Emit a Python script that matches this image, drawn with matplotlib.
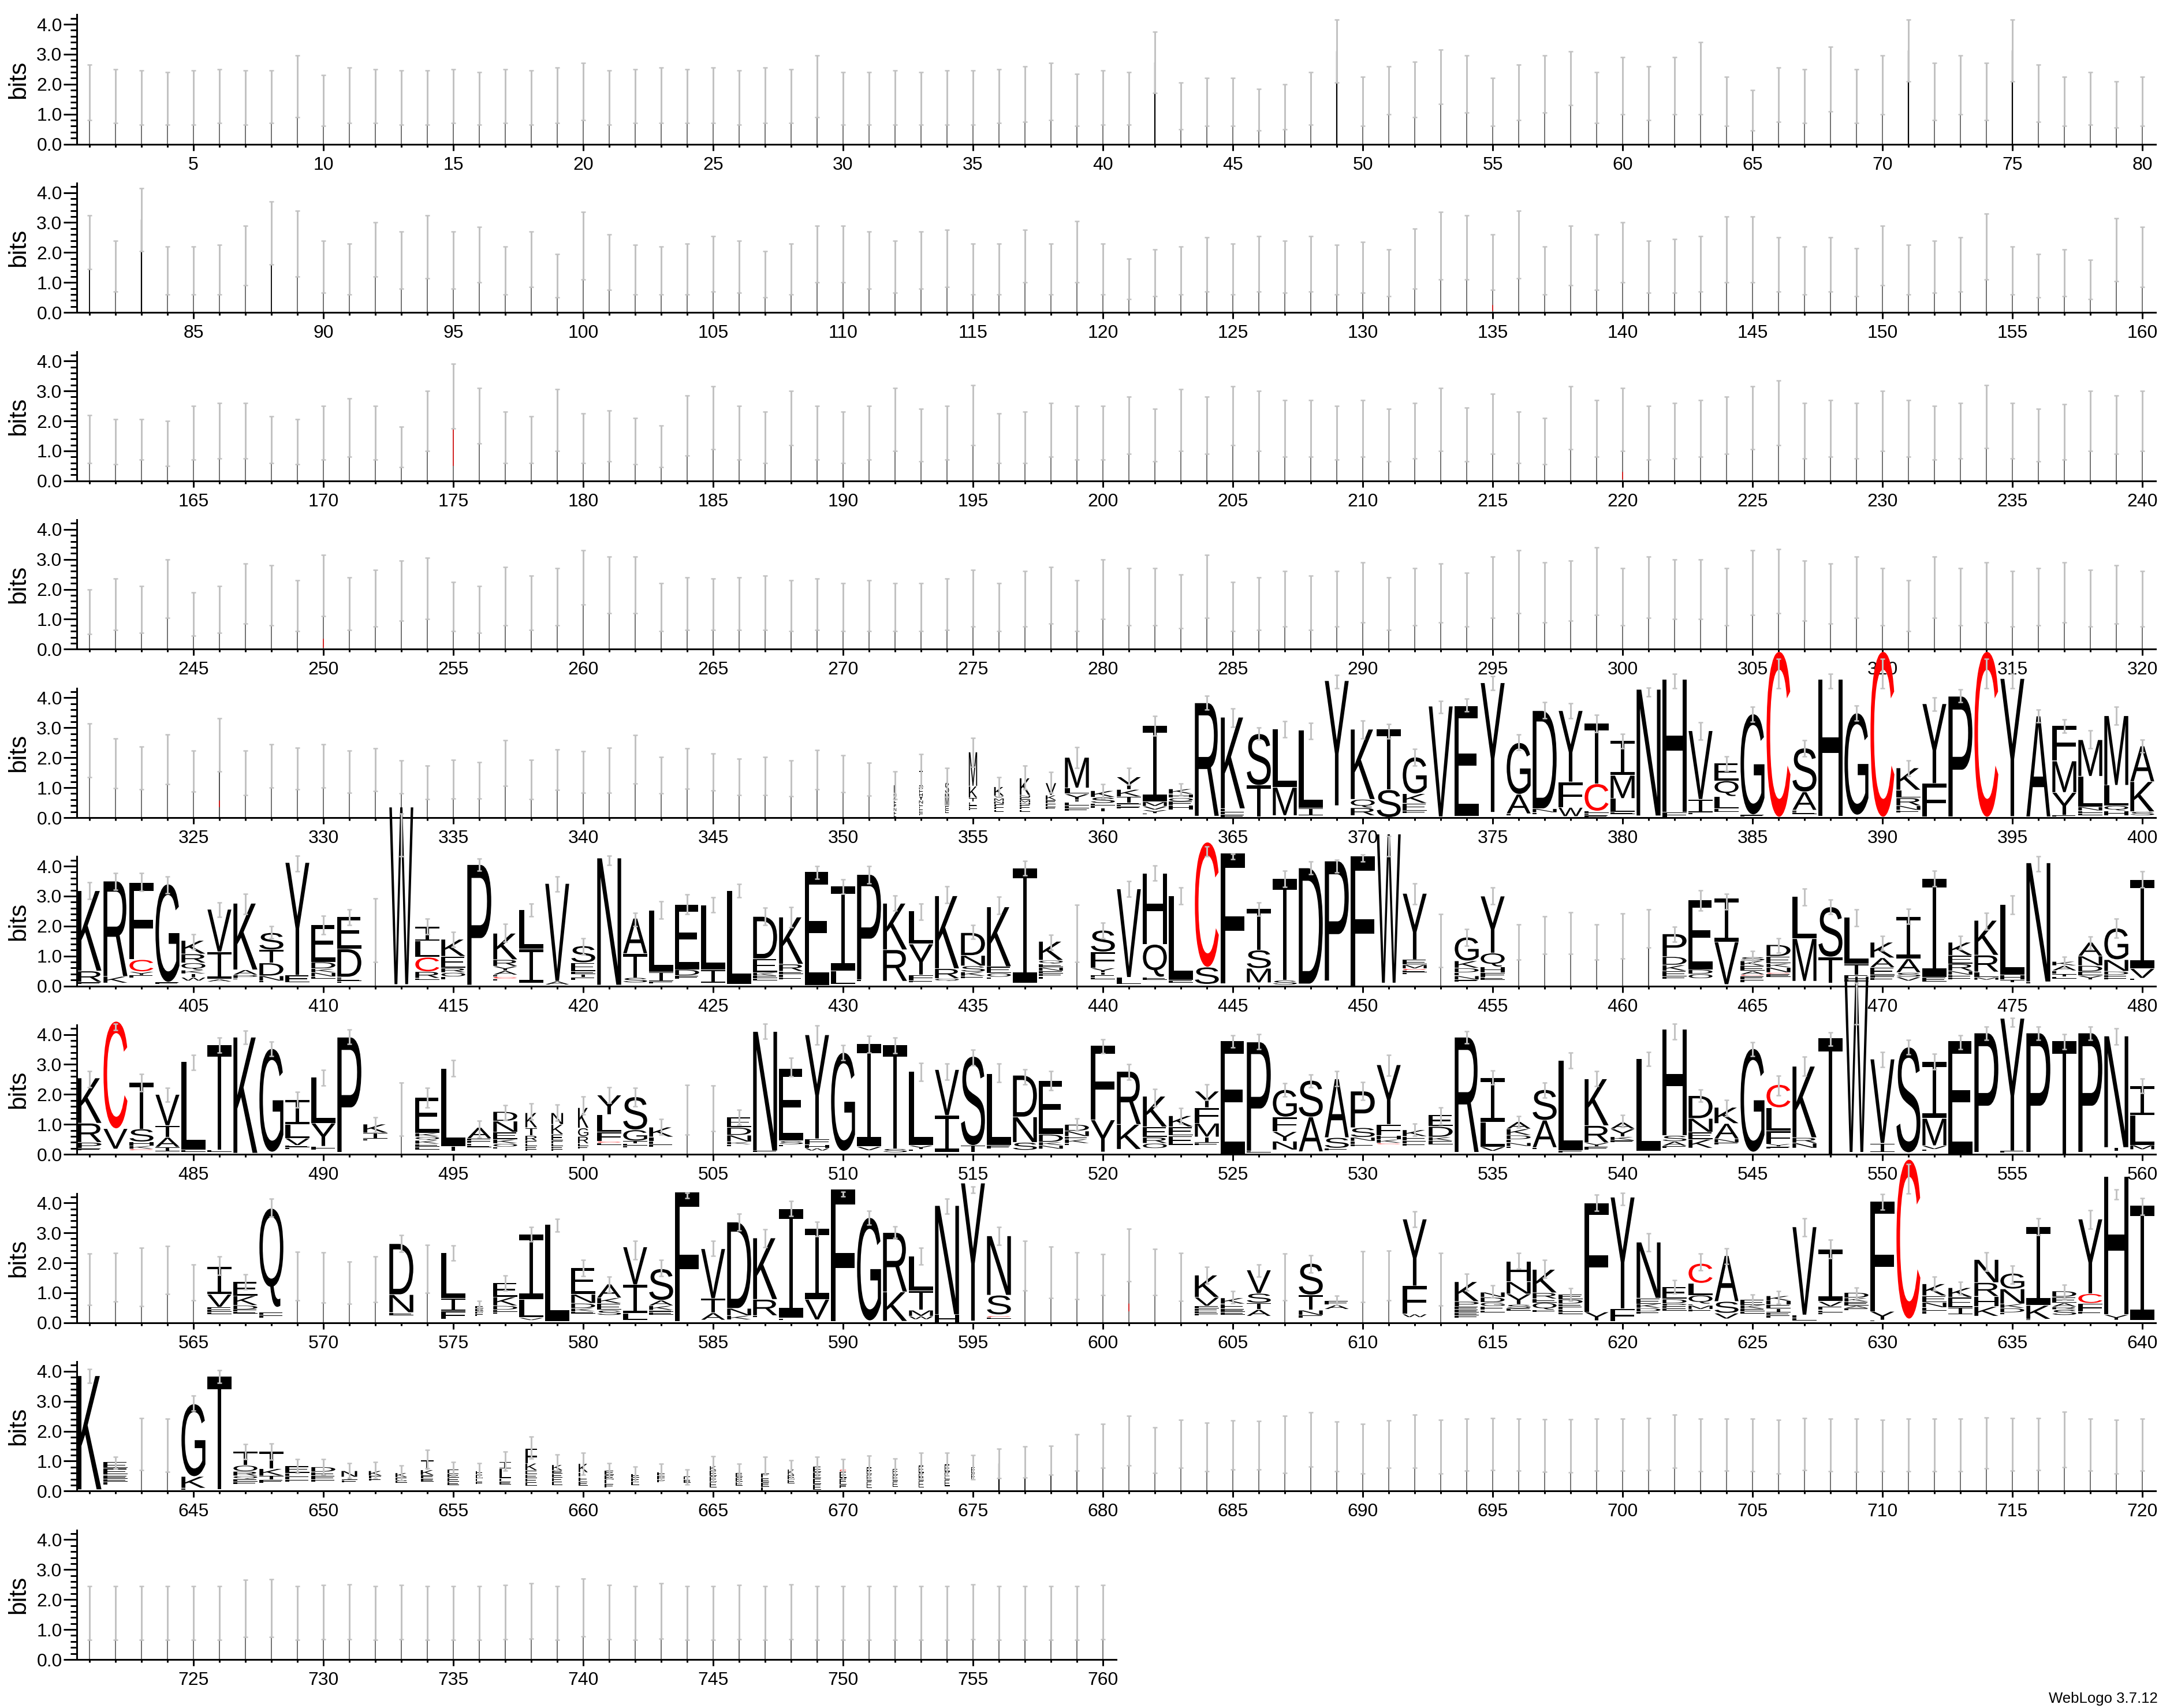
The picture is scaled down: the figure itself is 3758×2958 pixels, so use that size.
import matplotlib
matplotlib.use("Agg")
import matplotlib.pyplot as plt
from matplotlib.patches import PathPatch
from matplotlib.path import Path
from matplotlib.textpath import TextPath
from matplotlib.font_manager import FontProperties
from matplotlib.transforms import Affine2D
from matplotlib.ticker import MultipleLocator, FormatStrFormatter, FixedLocator

plt.rcParams['font.family'] = ['Liberation Sans', 'DejaVu Sans']

# upper / lower error-bar ends in bits, per row of the logo
hi_r1 = [2.65,2.5,2.45,2.4,2.45,2.5,2.45,2.45,2.95,2.3,2.55,2.5,2.45,2.45,2.5,2.4,2.5,2.45,2.55,2.7,
         2.45,2.5,2.55,2.5,2.55,2.45,2.55,2.5,2.95,2.4,2.4,2.45,2.4,2.45,2.45,2.5,2.6,2.7,2.35,2.45,
         2.4,3.75,2.05,2.2,2.2,1.85,2.0,2.4,4.15,2.25,2.6,2.75,3.15,2.95,2.2,2.65,2.95,3.1,2.4,2.9,
         2.6,2.9,3.4,2.25,1.8,2.55,2.5,3.25,2.5,2.95,4.15,2.7,2.95,2.7,4.15,2.65,2.25,2.4,2.1,2.25]
lo_r1 = [.8,.7,.65,.65,.65,.7,.65,.7,.9,.6,.7,.7,.65,.65,.7,.65,.7,.65,.7,.8,
         .65,.7,.7,.7,.7,.65,.7,.7,.9,.65,.65,.65,.65,.65,.65,.7,.75,.8,.6,.65,
         .65,1.7,.5,.6,.6,.45,.5,.65,2.05,.6,1.0,.9,1.35,1.05,.6,.8,1.05,1.3,.7,1.0,
         .8,1.0,1.0,.6,.45,.75,.7,1.1,.7,1.0,2.1,.8,1.0,.8,2.1,.75,.6,.65,.55,.6]
hi_r2 = [3.25,2.4,4.15,2.2,2.2,2.25,2.9,3.7,3.4,2.4,2.3,3.0,2.7,3.25,2.7,2.85,2.2,2.7,1.95,3.35,
         2.6,2.25,2.2,2.3,2.55,2.4,2.05,2.3,2.9,2.9,2.7,2.4,2.7,2.75,2.3,2.3,2.75,2.3,3.05,2.3,
         1.8,2.1,2.2,2.5,2.3,2.55,2.4,2.55,2.25,2.35,2.1,2.8,3.35,3.25,2.6,3.4,2.2,2.9,2.6,3.0,
         2.4,2.45,2.55,3.2,3.2,2.5,2.2,2.5,2.15,2.9,2.25,2.4,2.5,3.3,2.2,1.95,2.1,1.75,3.15,2.85]
lo_r2 = [1.45,.7,2.05,.6,.6,.6,.9,1.6,1.2,.65,.6,1.2,.8,1.15,.8,1.0,.6,.85,.5,1.1,
         .75,.6,.6,.6,.7,.65,.5,.6,1.0,1.0,.8,.65,.8,.85,.6,.6,1.0,.6,1.0,.6,
         .45,.55,.6,.7,.6,.7,.65,.7,.6,.65,.55,.8,1.1,1.1,.75,1.15,.6,.9,.75,1.0,
         .65,.65,.7,1.0,1.0,.7,.6,.7,.55,.9,.6,.65,.7,1.1,.6,.5,.55,.45,1.05,.85]
hi_r3 = [2.2,2.05,2.05,2.0,2.5,2.6,2.6,2.15,2.05,2.5,2.75,2.5,1.8,3.0,3.9,3.1,2.3,2.15,3.05,2.25,
         2.35,2.1,1.85,2.85,3.15,2.5,2.3,3.0,2.5,2.3,2.5,3.1,2.4,2.5,3.2,2.25,2.3,2.6,2.5,2.5,
         2.8,2.4,3.05,2.8,3.15,3.0,2.7,2.7,2.5,2.7,2.4,2.6,3.1,2.45,2.9,2.3,2.1,3.15,2.7,3.1,
         2.5,2.6,2.7,2.8,3.15,3.35,2.6,2.7,2.6,3.0,2.7,2.5,2.6,3.2,2.6,2.4,2.55,3.0,2.85,3.0]
lo_r3 = [.6,.55,.7,.5,.7,.75,.75,.6,.55,.7,.8,.7,.45,1.0,1.75,1.25,.6,.6,1.0,.6,
         .65,.55,.45,.85,1.05,.7,.6,1.2,.7,.6,.7,1.0,.65,.7,1.2,.6,.6,.8,.7,.7,
         .9,.65,1.0,.9,1.2,1.0,.8,.8,.7,.8,.65,.75,1.0,.65,.9,.6,.55,1.05,.8,1.0,
         .7,.75,.8,.9,1.05,1.2,.75,.8,.75,1.0,.8,.7,.75,1.1,.75,.65,.7,1.0,.9,1.0]
hi_r4 = [2.0,2.35,2.1,3.0,1.9,2.1,2.85,2.8,2.3,3.15,2.4,2.65,2.95,3.05,2.25,2.1,2.75,2.45,2.7,3.3,
         3.1,3.1,2.2,2.4,2.35,2.4,2.45,2.3,2.35,2.2,2.3,2.2,2.2,2.35,2.65,2.2,2.6,2.75,2.3,3.0,
         2.7,2.7,2.5,3.15,2.25,2.4,2.6,2.45,2.6,2.9,2.4,2.7,2.85,2.55,3.1,3.3,2.9,2.95,3.4,2.7,
         3.1,3.0,3.0,2.7,3.3,3.35,2.95,2.85,3.1,2.7,2.3,3.1,2.7,2.9,2.6,2.7,2.9,2.65,2.8,2.6]
lo_r4 = [.5,.65,.55,1.05,.45,.55,.85,.8,.6,1.1,.65,.75,.95,1.0,.6,.55,.8,.65,.8,1.5,
         1.2,1.2,.6,.65,.65,.65,.65,.6,.65,.6,.6,.6,.6,.65,.75,.6,.75,.85,.6,1.0,
         .8,.8,.7,1.05,.6,.65,.75,.65,.75,.9,.65,.8,.9,.75,1.05,1.2,.9,.95,1.15,.8,
         1.05,1.0,1.0,.8,1.15,1.2,.95,.85,1.05,.8,.6,1.05,.8,.9,.75,.8,.9,.75,.85,.75]
hi_r5 = [3.14,2.64,2.37,2.77,2.24,3.32,2.24,2.45,2.33,2.45,2.24,2.32,1.91,1.73,1.93,1.85,2.58,1.93,2.27,2.21,
         2.33,2.75,2.03,2.32,2.14,1.97,2.03,1.90,2.25,2.08,1.83,1.54,2.11,1.65,2.66,1.34,1.73,1.53,2.36,1.11,
         1.65,3.40,1.14,4.07,3.65,3.0,3.21,3.16,4.75,3.23,3.13,2.30,3.9,3.96,4.72,2.77,3.86,3.82,3.42,2.80,
         4.34,4.8,3.17,2.05,3.70,5.3,2.59,4.8,3.73,5.3,1.91,4.0,4.27,5.3,4.8,3.6,3.28,2.9,3.69,2.61]
lo_r5 = [1.35,.98,.94,1.11,.86,1.54,.76,1.01,.95,1.0,.82,.89,.80,.61,.64,.63,1.06,.61,.92,.82,
         .82,1.13,.80,.96,.91,.76,.76,.72,.94,.85,.73,.61,1.04,.69,1.70,.70,.94,.83,1.66,.63,
         1.09,2.74,.75,3.60,3.03,2.6,2.68,2.62,4.31,2.64,2.64,1.73,3.49,3.55,4.26,2.25,3.31,3.31,2.85,2.32,
         4.04,4.32,2.60,1.56,3.2,4.32,2.05,4.32,3.23,4.32,1.39,3.56,3.85,4.32,4.32,3.18,2.84,2.31,3.11,2.18]
hi_r6 = [3.47,3.76,3.76,3.65,1.73,2.78,3.08,1.99,4.35,2.34,2.56,2.93,5.76,2.24,1.81,4.26,2.07,2.75,3.65,1.6,
         4.35,2.44,2.83,3.05,2.95,3.41,2.62,2.64,4.0,3.56,4.0,3.01,2.75,3.32,2.04,2.97,4.17,1.71,2.71,2.12,
         3.49,4.02,3.28,4.65,4.4,2.78,3.84,4.15,4.22,4.39,5.0,3.43,2.4,1.9,3.28,2.05,2.32,2.46,2.05,2.42,
         2.56,1.97,3.19,3.08,1.16,1.59,3.25,2.88,2.56,1.66,2.58,3.85,1.67,2.44,3.01,4.32,.98,1.64,2.24,3.82]
lo_r6 = [2.90,3.21,3.17,3.1,1.23,2.31,2.41,1.59,3.82,1.73,2.03,.81,4.33,1.72,1.31,3.84,1.48,2.32,3.15,1.05,
         4.04,1.99,2.24,2.41,2.46,2.95,2.03,1.96,3.58,3.08,3.43,2.51,2.21,2.77,1.57,2.4,3.69,1.2,.81,1.59,
         2.97,3.51,2.73,4.32,4.23,2.34,3.3,3.73,3.78,4.15,4.32,2.73,.63,1.35,2.73,.87,1.08,1.07,.87,.91,
         1.28,1.48,2.51,2.55,.77,1.11,2.69,2.41,1.99,1.18,2.07,3.32,1.22,1.88,2.4,3.82,.59,1.22,1.62,3.28]
hi_r7 = [2.77,4.35,2.69,2.21,3.32,3.89,4.13,3.76,2.08,2.82,4.16,1.23,2.4,2.21,3.15,1.12,1.65,1.7,1.67,1.93,
         2.24,2.21,1.18,2.32,2.29,1.48,4.35,3.22,4.3,3.65,3.95,3.89,3.04,3.03,3.5,3.03,2.84,2.77,1.2,3.83,
         3.0,2.19,1.54,2.34,3.98,4.02,2.38,2.67,2.78,2.41,3.32,1.03,1.56,4.11,2.8,1.27,2.4,3.39,2.78,1.31,
         3.42,4.35,2.17,1.82,3.74,2.63,3.26,4.07,5.73,3.42,3.82,3.35,3.98,4.27,4.55,4.27,4.02,4.27,4.2,2.52]
lo_r7 = [2.23,4.15,2.1,1.75,2.82,3.39,3.69,3.28,1.56,2.3,3.69,.74,.62,1.56,2.6,.57,1.14,1.16,1.12,1.34,
         1.71,1.6,.66,.66,.77,.99,3.85,2.6,3.67,3.15,3.39,3.37,2.45,2.49,2.97,2.41,2.34,2.15,.79,3.37,
         2.49,1.6,1.03,1.82,3.57,3.52,1.93,2.23,2.27,1.82,2.63,.62,1.01,3.7,2.34,.89,1.9,2.88,2.27,.9,
         2.95,3.84,1.75,1.27,3.28,1.97,2.63,3.63,4.33,2.91,3.34,2.83,3.52,3.82,4.26,3.82,3.52,3.82,3.67,2.04]
hi_r8 = [2.3,2.32,2.51,2.55,1.95,2.21,1.62,4.13,2.36,2.34,2.03,2.21,2.93,2.6,2.58,.72,1.58,3.2,3.47,2.1,
         1.53,2.73,2.1,4.33,2.73,3.63,3.11,4.07,3.37,4.37,3.74,3.22,2.5,4.14,4.55,3.19,2.73,2.54,2.34,2.28,
         3.14,2.47,2.32,1.87,1.06,1.95,2.3,2.25,.9,2.38,2.41,3.72,2.32,1.64,1.25,2.32,2.1,1.16,4.28,4.33,
         2.98,1.43,2.3,2.49,.94,1.06,3.48,2.78,1.17,4.3,5.3,1.53,1.36,2.34,1.9,3.48,1.27,3.76,4.44,4.15]
lo_r8 = [.6,.7,.55,.96,.74,1.6,1.12,3.54,.75,.68,.64,.69,2.36,.99,2.08,.35,1.08,2.71,3.04,1.56,
         1.01,2.12,1.56,4.15,2.23,3.08,2.52,3.56,2.89,4.22,3.28,2.83,1.94,3.63,4.33,2.6,1.08,.83,.79,.92,
         1.38,.92,.72,1.31,.66,1.53,.74,1.68,.6,.69,.74,3.19,.57,1.08,.84,1.8,1.49,.72,3.74,3.93,
         2.38,.97,1.75,1.97,.57,.64,2.89,2.15,.79,3.78,4.32,1.08,.94,1.73,1.31,2.93,.79,3.13,4.11,3.59]
hi_r9 = [4.07,1.14,2.44,2.42,3.18,4.04,1.57,1.59,1.06,1.06,.94,.97,.85,1.37,.97,.94,1.31,1.81,1.22,1.28,
         .94,.82,.92,.72,1.17,.92,1.15,1.03,1.15,1.07,1.19,1.09,1.28,1.28,1.2,1.42,1.5,1.52,1.9,2.24,
         2.52,2.13,2.38,2.29,2.36,2.33,2.51,2.63,2.32,2.24,2.36,2.55,2.38,2.42,2.44,2.42,2.4,2.4,2.42,2.42,
         2.44,2.55,2.41,2.41,2.41,2.38,2.44,2.41,2.41,2.38,2.41,2.41,2.41,2.46,2.44,2.44,2.64,2.42,2.38,2.42]
lo_r9 = [3.62,.76,.7,.65,2.68,3.62,1.07,1.04,.6,.55,.43,.43,.35,.76,.5,.45,.69,1.09,.69,.54,
         .43,.32,.35,.21,.32,.24,.54,.41,.5,.38,.39,.39,.43,.5,.39,.43,.46,.55,.69,.77,
         .85,.6,.77,.67,.72,.72,.61,.82,.67,.58,.77,.77,.58,.69,.7,.69,.65,.63,.69,.69,
         .7,.77,.67,.69,.67,.58,.7,.67,.65,.67,.67,.67,.67,.75,.69,.7,.8,.69,.58,.69]
hi_r10 = [2.44,2.44,2.44,2.44,2.44,2.44,2.66,2.68,2.44,2.48,2.5,2.44,2.48,2.44,2.44,2.44,2.48,2.55,2.44,2.7,
          2.48,2.44,2.55,2.44,2.44,2.48,2.44,2.5,2.44,2.44,2.44,2.44,2.44,2.44,2.5,2.44,2.44,2.44,2.44,2.48]
lo_r10 = [.66,.66,.66,.66,.66,.66,.75,.75,.66,.68,.68,.66,.68,.66,.66,.66,.68,.7,.66,.78,
          .68,.66,.7,.66,.66,.68,.66,.68,.66,.66,.66,.66,.66,.66,.68,.66,.66,.66,.66,.68]
hi_rows = [hi_r1,hi_r2,hi_r3,hi_r4,hi_r5,hi_r6,hi_r7,hi_r8,hi_r9,hi_r10]
lo_rows = [lo_r1,lo_r2,lo_r3,lo_r4,lo_r5,lo_r6,lo_r7,lo_r8,lo_r9,lo_r10]

# letter stacks: first number = stack top in bits, then letters top to bottom with height in bits
stacks_r5 = {
352:"1.07 E.25 N.1 E.1 H.1 E.1 N.1 F.1 E.1",353:"1.57 I.55 D.05 F.1 H.1 I.1 N.1 E.06 E.06 E.06 E.06 E.06",
354:"1.17 S.35 M.4 E.06 E.06 E.06",355:"2.18 M1.12 K.37 T.12 E.05 E.05 E.05 E.05",
356:"1.02 K.29 V.05 M.08 N.08 E.08 E.06 E.06",357:"1.31 K.55 N.05 E.07 M.07 N.05 E.06 E.06 E.06",
358:"1.15 V.39 K.15 E.09 E.08 E.08",359:"2.0 M1.0 L.18 Y.18 T.05 E.1 E.08 E.06",360:".89 K.2 S.18 E.06 E.06 I.1",
361:"1.35 Y.4 K.22 T.18 E.04 E.05 E.05",362:"3.06 I2.52 M.13 V.1 Y.1 E.02",363:".95 K.15 H.11 O.1 E.11 H.13",
364:"3.82 R3.76",365:"3.34 K3.03 E.08 E.08 E.08",366:"2.79 S1.7 T1.03",367:"2.95 L1.93 M.92",368:"2.9 L2.58 I.22",
369:"4.56 Y4.15",370:"2.94 K2.32 Q.26 R.24",371:"2.94 T2.0 S.9",372:"2.01 G1.2 K.3 E.24 E.06",373:"3.71 V3.67",
374:"3.71 E3.65",375:"4.49 Y4.3",376:"2.49 G1.7 A.63 E.05",377:"3.56 D3.25 N.11 E.05",378:"3.56 Y2.36 F.83 W.28",
379:"3.14 T2.0 C.89 E.05 E.05 E.05",380:"2.57 I1.15 M.75 L.44 E.05",381:"4.27 N4.2",382:"4.6 H4.41 F.17",
383:"2.89 V2.27 I.42 E.05",384:"1.81 E.57 Q.5 L.39 E.09",385:"3.45 G3.34 E.05",386:"5.53 C5.5",
387:"2.31 S1.44 A.59 E.05 E.05",388:"4.6 H4.55",389:"3.48 G3.38",390:"5.53 C5.5",391:"1.65 K.72 L.24 R.24 N.13 E.07",
392:"3.79 Y2.64 F1.09",393:"4.04 P4.0",394:"5.53 C5.5",395:"4.63 Y4.58",396:"3.38 A3.34",397:"3.06 F1.16 M1.03 Y.74 E.04",
398:"2.59 M1.2 L1.0 N.11 E.06 E.06",399:"3.39 M2.3 L.66 Q.15 H.15",400:"2.38 A1.17 K.98 S.11"}
stacks_r6 = {
401:"3.17 K2.66 R.35 E.05",402:"3.49 R3.16 K.2",403:"3.45 F2.56 C.38 Y.1 E.07",404:"3.39 G3.25 E.05",
405:"1.51 K.43 R.28 Q.22 K.1 I.1 W.1",406:"2.55 V1.4 I.89 A.07",407:"2.75 K2.2 A.15 P.09 E.03",
408:"1.77 S.55 T.42 D.41 N.15 E.03",409:"4.11 Y3.74 E.22",410:"2.04 E1.23 D.2 K.11 N.12 E.05",411:"2.31 E1.06 D.92 E.05 E.05 E.05",
413:"5.96 W5.9",414:"1.97 I.46 L.52 C.46 R.2 E.04",415:"1.55 K.55 E.37 R.13 O.12 E.08",416:"4.04 P4.0",
417:"1.75 K.86 R.2 Y.13 A.12 E.04 C.05 E.05",418:"2.53 L1.28 I1.12",419:"3.41 V3.24 A.1",420:"1.33 S.54 E.27 E.08 I.08 E.08",
421:"4.26 N4.22",422:"2.25 A1.16 T.78 S.15",423:"2.51 L2.03 I.3 E.06",424:"2.71 E2.15 D.18 E.1",425:"2.69 L2.14 I.42",
426:"3.17 L3.1",427:"2.31 D1.39 E.44 K.09 E.06 E.06",428:"2.29 K1.55 R.22 E.08 E.08 E.06",429:"3.8 E3.76",
430:"3.32 I2.8 L.44",431:"3.71 P3.49 E.04",432:"2.75 K1.53 R1.03",433:"2.49 L1.08 Y1.01 F.18 E.04",434:"3.0 K2.41 R.31 Q.07",
435:"1.77 D.74 N.33 S.18 K.12 E.06",436:"2.63 K1.97 E.2 O.11 E.05",437:"3.93 I3.82",
438:"1.48 K.61 Q.1 E.1 N.1 E.07 E.07 E.07",440:"1.85 S.7 F.52 Y.13 I.07 E.05 E.05",441:"3.23 V2.93 L.22",
442:"3.75 H2.35 Q1.07 E.08",443:"2.99 L2.79 E.07",444:"4.79 C4.15 S.55",445:"4.43 F4.35",446:"2.58 T1.37 S.59 M.46",
447:"3.58 T3.38 S.13",448:"3.93 D3.85",449:"4.16 P3.98",450:"4.32 F4.32",451:"5.06 W4.95",452:"3.08 Y2.19 E.15 M.11 C.04 E.05 E.05",
454:"1.62 G.77 K.22 D.13 E.09 N.11 E.05",455:"2.99 Y1.88 Q.44 H.17 F.13 E.08",462:"1.73 P.74 D.26 K.18 E.17 E.06",
463:"2.86 E2.3 D.13 O.13",464:"2.92 I1.44 V1.4",465:".96 S.11 K.15 E.15 A.1 C.03 E.1 E.08",466:"1.37 D.37 E.22 K.11 N.15 C.03 E.08",
467:"2.97 L1.38 M1.4",468:"2.63 S1.65 T.86",469:"2.29 L1.55 T.35 E.1 E.08",470:"1.45 K.5 A.3 E.24 F.07 E.06",
471:"2.31 I1.39 A.44 S.13 V.11",472:"3.58 I3.28 E.13",473:"1.45 K.42 E.26 R.22 N.11 E.06 E.06",474:"2.18 K1.14 R.54 L.16 M.07",
475:"2.71 L2.34 H.13 I.07",476:"4.1 N3.95 E.05",477:".81 K.12 A.15 E.09 T.07 E.05",478:"1.45 A.44 N.3 D.18 E.11 Y.12",
479:"1.92 G1.03 N.37 D.1 E.06 E.06",480:"3.54 I2.95 V.3 E.05"}
stacks_r7 = {
481:"2.54 K1.49 R.62 P.18 E.05",482:"4.43 C3.56 V.66",483:"2.4 T1.54 S.41 H.11 K.09 C.03",484:"1.99 V1.02 T.37 A.31 I.13",
485:"3.08 L2.92 E.05",486:"3.65 T3.49 E.05",487:"3.9 K3.85",488:"3.52 G3.43",489:"1.82 I.81 L.44 V.22 E.05 E.05",
490:"2.56 L1.51 Y.75 F.11",491:"3.9 P3.82",492:"1.0 K.27 I.18 E.04",494:"1.9 E1.18 K.1 Q.1 K.1 E.08 E.08",495:"2.86 L2.58 I.15",
496:".89 A.35 E.06 E.06 E.05 E.05",497:"1.42 D.3 N.35 E.22 K.12 O.09 E.04",498:"1.38 K.48 T.24 R.16 E.07 E.07 E.07 E.06",
499:"1.38 N.37 K.31 E.2 E.07 E.07 E.07 E.06",500:"1.55 K.66 G.26 R.22 E.07 E.07",501:"1.97 Y.63 L.57 F.28 C.04 E.05",
502:"1.91 S1.08 G.35 I.07 E.05 E.05",503:".9 K.31 F.12 E.08 E.08",506:"1.23 E.32 D.24 N.2 K.07 E.05",507:"4.09 N3.96 E.03",
508:"2.86 E2.4 S.1 E.05",509:"3.98 Y3.45 F.18 H.09 W.07",510:"3.39 G3.27",511:"3.69 I3.42 V.11",512:"3.65 T3.45 S.11",
513:"2.75 L2.44 Y.11 E.05",514:"2.82 V1.51 I1.2",515:"3.26 S2.95 T.2",516:"2.69 L2.38 E.1",517:"2.63 D1.37 N.83 S.24",
518:"2.45 E1.77 D.24 K.09 N.1",519:".99 D.2 N.16 E.07 K.12 E.05",520:"3.62 F2.46 Y1.05",521:"2.76 R1.75 K.81",
522:"1.93 K1.0 E.33 R.18 O.15",523:"1.28 K.35 E.28 E.29",524:"2.1 Y.53 F.5 M.44 I.18 E.06",525:"3.78 E3.76",526:"3.74 P3.62 E.03",
527:"2.15 G.89 F.47 Y.3 N.27",528:"2.46 S1.2 A1.14",529:"2.51 A1.94 S.33 E.06",530:"2.1 P1.2 S.3 N.11 E.08 E.06",
531:"2.98 Y1.97 F.35 H.11 K.1 C.03",532:".81 K.2 E.13 E.07 E.06",533:"1.31 E.37 D.33 K.11 E.1",534:"3.9 R3.82",535:"2.54 I1.45 L.81 V.12",
536:"1.08 A.22 K.19 D.12 E.09 N.1 E.05",537:"2.15 S1.0 A.89 E.05",538:"3.13 L3.0 E.05",539:"2.51 K1.54 R.55 Y.11 E.1",
540:"1.06 A.2 Y.24 K.1 E.05",541:"3.19 L3.08",542:"4.17 H3.53 S.18 A.13 E.06",543:"1.95 D.74 N.44 E.22 K.27",
544:"1.56 K.52 A.49 N.11 E.05",545:"3.52 G3.43",546:"2.32 C.75 L.76 F.41 Y.07 E.05",547:"2.93 K2.36 R.16 N.15",548:"3.87 T3.87",
549:"5.93 W5.85",550:"3.17 V2.79 I.28",551:"3.57 S3.5",552:"3.08 I1.87 M.89 V.1 E.05",553:"3.78 E3.78",554:"4.04 P3.96",
555:"4.53 Y4.4 E.05",556:"4.04 P3.96",557:"3.78 T3.78",558:"4.04 P3.96",559:"3.94 N3.7 I.1",560:"2.27 I.96 L.97 M.13"}
stacks_r8 = {
566:"1.86 I.9 V.41 E.06 E.06 E.06",567:"1.36 E.45 K.3 D.12 E.05 E.05",568:"3.81 Q3.28 _.15 E.08 E.07",573:"2.63 D1.68 N.58 E.08",
575:"2.32 L1.5 I.4 F.25",576:".55 E.07 E.07 E.07 E.06",577:"1.33 E.46 K.27 D.12 E.05 E.05",578:"2.95 I2.16 L.59 V.07",579:"3.28 L3.22",
580:"1.82 E.86 N.28 D.15 K.09 E.05",581:"1.28 A.44 K.17 E.2 S.15",582:"2.52 V1.24 I.94 L.2",583:"1.79 S1.03 A.16 K.13 E.04 E.08",
584:"4.35 F4.3",585:"2.46 V1.64 T.46 A.22",586:"3.35 D2.86 N.22 K.12",587:"2.82 K2.03 R.52 E.05",588:"3.8 I3.64 E.05",589:"3.13 I2.34 V.66",
590:"4.44 F4.39",591:"3.5 G3.42",592:"3.0 R1.96 K.96",593:"2.21 L1.13 T.63 M.18 W.09",594:"3.9 N3.62 H.26",595:"4.65 Y4.58",
596:"2.89 N1.96 S.63 _.02 C.03 E.03",604:"1.58 K.72 V.27 E.07 E.06 E.06 E.06",605:".82 K.18 E.15 E.08 E.08",606:"1.75 V.76 S.3 I.2 A.2",
608:"1.97 S1.03 T.49 N.15 E.07",609:".72 E.11 A.13",612:"3.45 Y2.21 F.92 W.09",614:"1.36 K.64 P.15 E.08 E.08 E.08 E.06",
615:"1.01 N.15 D.15 G.11 E.11 E.06",616:"2.04 H.66 N.39 Y.33 S.11 E.06",617:"1.77 K.76 R.18 E.11 Q.22 E.06",618:".94 E.15 D.13 E.07 E.07 E.07 E.06",
619:"3.99 F3.62 Y.27",620:"4.18 Y3.7 F.41",621:"2.68 N1.85 E.17 K.12 D.1 E.06",622:"1.2 E.4 D.13 P.06 E.06 E.06",
623:"1.97 C.64 L.38 Q.27 E.03 M.11 E.06",624:"2.23 A1.51 S.37 V.17",625:".76 E.16 K.11 E.06 E.06",626:".89 K.15 H.11 E.11 I.11 E.07 E.07",
627:"3.19 V2.92 E.08 E.07",628:"2.45 I1.73 V.15 E.1 E.06 E.05",629:"1.0 D.16 K.11 E.11 A.07 E.05",630:"4.04 F3.65 Y.27 E.02",631:"5.44 C5.3",
632:"1.29 K.38 E.2 N.15 E.09 E.09",633:"1.16 K.3 E.33 I.2",634:"2.1 N.75 R.44 H.32 K.3",635:"1.64 G.5 N.48 K.12 D.13 E.05",
636:"3.2 I2.61 K.44 E.02",637:"1.05 D.18 E.18 A.11 R.07 S.17",638:"3.45 Y2.47 C.3 F.26 E.06",639:"4.88 H4.6 Y.16",640:"3.91 I3.82"}
stacks_r9 = {
641:"3.84 K3.78",642:".97 E.2 E.18 E.03 E.08 E.08 E.08",645:"2.9 G2.4 K.37 E.04",646:"3.82 T3.76",647:"1.31 T.44 O.18 R.13 Q.09 E.07 E.07",
648:"1.31 T.55 K.22 I.11 E.1",649:".83 E.22 E.09 E.09 E.06",650:".8 D.15 E.11 E.11 E.06",651:".67 N.19 I.08 E.07",652:".67 K.15 E.07 E.06",
653:".6 K.13 E.08 E.07",654:"1.02 T.3 K.16 E.09 E.09",655:".72 E.12 E.12 E.12 E.1",656:".67 E.11 E.1 E.09 E.08",657:".98 I.22 L.3 E.09 E.09",
658:"1.42 F.48 K.22 E.11 E.11 E.11 E.1",659:".87 K.17 E.09 E.11 E.11 E.11",660:".91 K.28 E.13 E.13 E.12",661:".68 E.13 E.13 E.13 E.11",
662:".57 E.11 E.11 E.11",663:".63 E.11 E.11 E.08",664:".48 E.09 E.09",665:".83 K.13 E.17 E.17 E.17",666:".6 E.13 E.13 E.11",
667:".58 F.13 E.13 E.13 E.13",668:".72 K.18 E.12 E.12",669:".82 E.18 E.18 E.18 E.18",670:".72 C.06 E.2 E.2 E.1",671:".79 E.22 E.22 E.2",
672:".74 E.19 E.19 E.18",673:".85 E.24 E.24 E.2",674:".89 E.24 E.24 E.2",675:".8 E.2 E.2"}
stacks = {**stacks_r5, **stacks_r6, **stacks_r7, **stacks_r8, **stacks_r9}

# stack width as a share of the column where a column is not full
column_width = {352:.1,353:.15,354:.15,355:.32,356:.37,357:.4,358:.4,498:.45,499:.45,500:.4,576:.3,
    651:.6,652:.5,653:.45,654:.5,655:.45,656:.25,657:.45,658:.45,659:.4,660:.35,661:.35,662:.3,663:.3,664:.25,
    665:.25,666:.25,667:.3,668:.25,669:.3,670:.25,671:.2,672:.2,673:.2,674:.2,675:.15,676:.05,677:.04,678:.035,679:.03,
    42:.05,49:.05,71:.05,75:.05,81:.04,83:.05,88:.04,326:.03,461:.03}
# red C slivers in the nearly empty columns: (bottom, top) in bits
red_slivers = {135:(.05,.25),175:(.5,1.9),220:(.05,.3),250:(.05,.35),314:(1.2,1.3),326:(.35,.57),601:(.38,.64),688:(1.6,1.7)}

row_starts = [1,81,161,241,321,401,481,561,641,721]
y_ticks = [0,1,2,3,4]

W, H = 3758, 2958
COL = 45.0
BIT = 51.9
LEFT = 132.5
BASE0 = 249.6
STEP = 291.6
GREY = '#c2c2c2'

fig = plt.figure(figsize=((W+.01)/300, (H+.01)/300), dpi=300, facecolor='white')

sans = FontProperties(family='Liberation Sans')
# the logo's I has thin serif bars, which none of the installed sans faces has
I_SHAPE = Path([(0,0),(1,0),(1,.09),(.58,.09),(.58,.91),(1,.91),(1,1),(0,1),(0,.91),(.42,.91),(.42,.09),(0,.09),(0,0)],
               closed=True)
glyphs = {}
def glyph(ch):
    if ch not in glyphs:
        p = I_SHAPE if ch == 'I' else TextPath((0, 0), ch, size=1, prop=sans)
        e = p.get_extents()
        glyphs[ch] = (p, e.x0, e.y0, e.width, e.height)
    return glyphs[ch]

def draw_letter(ax, ch, x, w, y0, h):
    p, ex, ey, ew, eh = glyph(ch)
    tr = Affine2D().translate(-ex, -ey).scale(w/ew, h/eh).translate(x-w/2, y0)
    ax.add_patch(PathPatch(p.transformed(tr), facecolor='red' if ch == 'C' else 'black',
                           edgecolor='none', lw=0, clip_on=False, zorder=2))

for r, start in enumerate(row_starts):
    n = len(hi_rows[r])
    base = BASE0 + r*STEP
    height = 4.32*BIT
    ax = fig.add_axes([LEFT/W, 1-base/H, n*COL/W, height/H])
    ax.patch.set_visible(False)
    ax.set_xlim(start-.5, start+n-.5)
    ax.set_ylim(0, 4.32)
    for s in ('top', 'right'):
        ax.spines[s].set_visible(False)
    for s in ('left', 'bottom'):
        ax.spines[s].set_linewidth(.72)
    xs = list(range(start, start+n))
    ax.xaxis.set_major_locator(FixedLocator([p for p in xs if p % 5 == 0]))
    ax.xaxis.set_minor_locator(FixedLocator([p for p in xs if p % 5]))
    ax.xaxis.set_major_formatter(FormatStrFormatter('%d'))
    ax.yaxis.set_major_locator(FixedLocator(y_ticks))
    ax.yaxis.set_minor_locator(MultipleLocator(.2))
    ax.yaxis.set_major_formatter(FormatStrFormatter('%.1f'))
    ax.tick_params(axis='x', which='major', length=2.64, width=.72, labelsize=7.7, pad=2.4)
    ax.tick_params(axis='x', which='minor', length=1.2, width=.72)
    ax.tick_params(axis='y', which='major', length=5.5, width=.72, labelsize=7.7, pad=.5)
    ax.tick_params(axis='y', which='minor', length=2.64, width=.72)
    ax.set_ylabel('bits', fontsize=10.2)
    ax.yaxis.set_label_coords(-80/(n*COL), .5)

    hi, lo = hi_rows[r], lo_rows[r]
    mids = []
    for p, h, l in zip(xs, hi, lo):
        mid = (h+l)/2
        mids.append(mid)
        w = column_width.get(p, .92 if p in stacks else .024)
        if p in stacks:
            tok = stacks[p].split()
            y = float(tok[0])
            for t in tok[1:]:
                ch, hh = t[0], float(t[1:])
                if ch != '_':
                    draw_letter(ax, ch, p, w, y-hh, hh)
                y -= hh+.02
        else:
            for b in ax.bar(p, mid, width=w, color='black', linewidth=0, zorder=2):
                b.set_snap(False)
        if p in red_slivers:
            b0, t0 = red_slivers[p]
            for b in ax.bar(p, t0-b0, bottom=b0, width=max(w, .03), color='red', linewidth=0, zorder=2.1):
                b.set_snap(False)

    eb = ax.errorbar(xs, mids, yerr=[[m-l for m, l in zip(mids, lo)], [h-m for m, h in zip(mids, hi)]],
                     fmt='none', ecolor=GREY, elinewidth=.72, capsize=.95, capthick=.6, zorder=3)
    for art in list(eb.lines[1])+list(eb.lines[2]):
        art.set_clip_on(False)

fig.text(3737/W, 1-2942/H, 'WebLogo 3.7.12', ha='right', va='center', fontsize=6.2)
fig.savefig('out.png', dpi=300)
